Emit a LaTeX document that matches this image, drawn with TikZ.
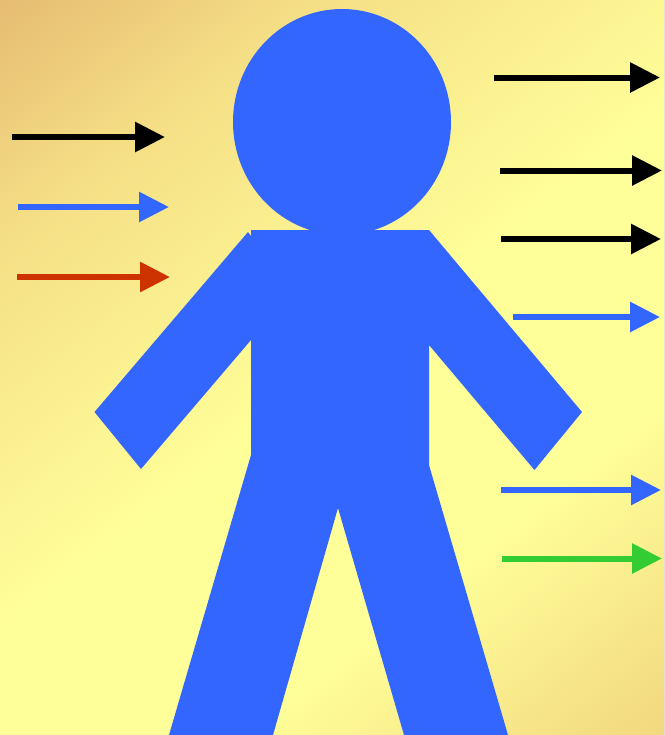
\documentclass[tikz,border=0pt]{standalone}
\usepackage{amsmath}
\usetikzlibrary{arrows.meta}
\definecolor{cblue}{HTML}{3366FF}
\definecolor{cred}{HTML}{CC3300}
\definecolor{cgreen}{HTML}{33CC33}
\definecolor{cstart}{HTML}{E6BC72}
\definecolor{cquarter}{HTML}{F5DF86}
\definecolor{cmid}{HTML}{FFFF99}
\definecolor{cend}{HTML}{F2D77E}
\pgfdeclarehorizontalshading{bgshade}{100bp}{color(0bp)=(cstart); color(26.5bp)=(cstart); color(35.7bp)=(cquarter); color(50.3bp)=(cmid); color(61bp)=(cmid); color(73.5bp)=(cend); color(100bp)=(cend)}

\begin{document}
\begin{tikzpicture}[x=0.02cm, y=-0.02cm,
    figure/.style={fill=cblue, draw=none},
    ray/.style={line width=0.12cm, -{Triangle[length=0.6cm, width=0.58cm]}}]
  \useasboundingbox (0,0) rectangle (664,735);
  \begin{scope}
    \clip (0,0) rectangle (664,735);
    \fill[shading=bgshade, transform canvas={shift={(332,367.5)}, rotate=-52}] (-10.5cm,-10.5cm) rectangle (10.5cm,10.5cm);
  \end{scope}
  \fill[figure] (342,122) ellipse[x radius=109*0.02cm, y radius=113*0.02cm];
  \fill[figure] (251,230) -- (429,230) -- (582,412) -- (534.5,470) -- (429,345) -- (429,465)
    -- (508,735) -- (404,735) -- (338,508) -- (273,735) -- (169,735) -- (251,455)
    -- (251,340) -- (141,469) -- (94.5,412) -- (248,232) -- (251,236) -- cycle;
  \foreach \xa/\xb/\ya/\col in {12/165/137/black, 18/169/207/cblue, 17/170/277/cred,
    494/660/77.5/black, 500/662/170.5/black, 501/661/239/black, 513/660/317/cblue,
    501/661/490/cblue, 502/662/558.5/cgreen}{
    \draw[ray, \col] (\xa,\ya) -- (\xb,\ya);
  }
\end{tikzpicture}
\end{document}
